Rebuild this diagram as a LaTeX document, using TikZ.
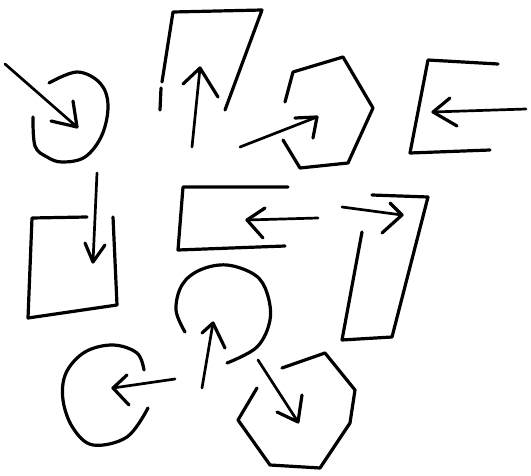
\documentclass[tikz,border=0pt]{standalone}
\begin{document}
\begin{tikzpicture}[x=1pt,y=-1pt,
  ink/.style={line width=3.2pt,line cap=round,line join=round,black},
  thin ink/.style={ink,line width=2.7pt}]
\useasboundingbox (0,0) rectangle (531,476);
% 1: open circle, arrow in from top-left
\draw[ink] plot[smooth,tension=0.6] coordinates {(49,83) (77,72) (100,83) (108,105) (102,135) (85,157) (62,162) (47,157) (35,146) (33,117)};
\draw[thin ink] (5,64) -- (77,127);
\draw[ink] (73,101) -- (77,127) -- (51,121);
% 2: tall open rectangle, arrow up
\draw[ink] (160,110) -- (161,88);
\draw[ink] (162,82) -- (173,12) -- (262,10) -- (225,110);
\draw[thin ink] (192,147) -- (200,68);
\draw[ink] (183,84) -- (200,68) -- (218,97);
% 3: heptagon, arrow in from left
\draw[ink] (285,102) -- (293,72) -- (343,57) -- (373,108) -- (348,163) -- (300,168) -- (283,140);
\draw[thin ink] (240,147) -- (317,117);
\draw[ink] (295,118) -- (317,117) -- (313,138);
% 4: rectangle open to the right, arrow left
\draw[ink] (498,64) -- (428,60) -- (410,153) -- (490,150);
\draw[thin ink] (526,109) -- (433,112);
\draw[ink] (450,98) -- (433,112) -- (457,126);
% 5: square open at top, arrow down
\draw[ink] (87,217) -- (32,218) -- (28,318) -- (117,305) -- (113,217);
\draw[thin ink] (97,173) -- (93,262);
\draw[ink] (85,243) -- (93,262) -- (105,245);
% 6: rectangle open to the right, arrow left
\draw[ink] (288,187) -- (183,187) -- (178,250) -- (285,246);
\draw[thin ink] (318,218) -- (247,220);
\draw[ink] (265,208) -- (247,220) -- (263,238);
% 7: tall slanted rectangle, arrow right
\draw[ink] (372,195) -- (428,197) -- (392,337) -- (342,340) -- (362,232);
\draw[thin ink] (342,207) -- (402,215);
\draw[ink] (390,203) -- (402,215) -- (382,233);
% 8: big open circle, arrow up
\draw[ink] plot[smooth,tension=0.6] coordinates {(185,332) (176,310) (182,285) (200,270) (227,265) (255,275) (267,293) (270,320) (257,347) (227,363)};
\draw[thin ink] (202,388) -- (213,323);
\draw[ink] (202,333) -- (213,323) -- (225,348);
% 9: small open circle, arrow left
\draw[ink] plot[smooth,tension=0.6] coordinates {(144,370) (137,353) (113,345) (85,352) (66,373) (63,400) (73,428) (93,445) (127,437) (148,408)};
\draw[thin ink] (175,379) -- (113,388);
\draw[ink] (127,375) -- (113,388) -- (129,405);
% 10: heptagon, arrow in from top-left
\draw[ink] (282,368) -- (325,353) -- (355,390) -- (350,423) -- (320,468) -- (270,465) -- (238,420) -- (257,388);
\draw[thin ink] (258,360) -- (298,422);
\draw[ink] (302,395) -- (298,422) -- (277,412);
\end{tikzpicture}
\end{document}
